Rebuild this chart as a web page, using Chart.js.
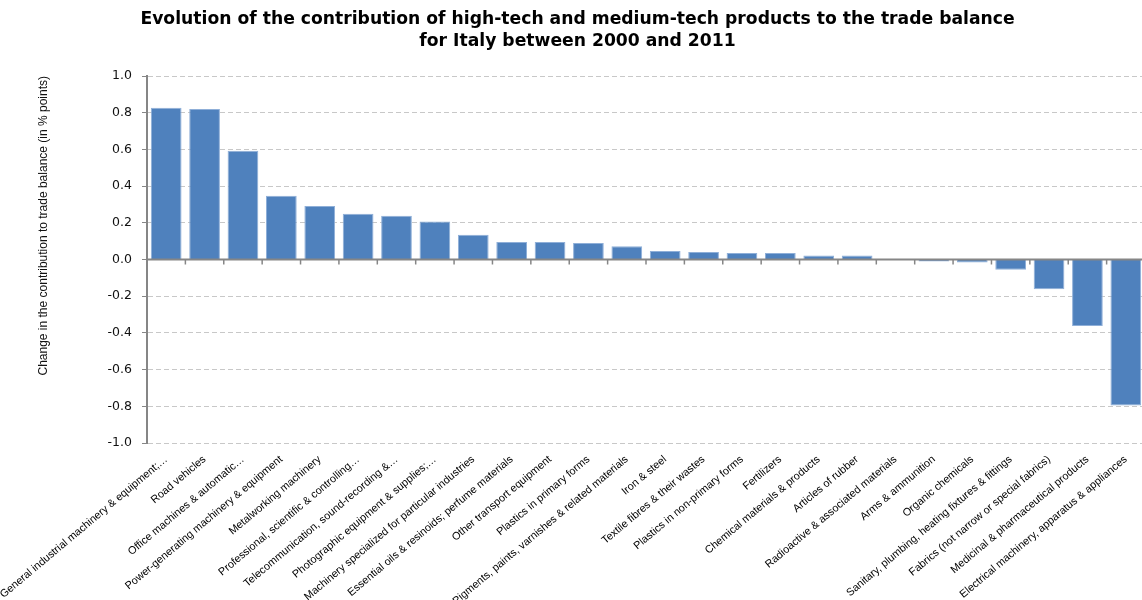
<!DOCTYPE html>
<html><head><meta charset="utf-8">
<script src="https://cdn.jsdelivr.net/npm/chart.js@4.4.1/dist/chart.umd.min.js"></script>
<style>
html,body{margin:0;padding:0;overflow:hidden;background:#fff;width:1142px;height:600px}
#wrap{position:absolute;left:0;top:0;width:1150px;height:600px}
</style>
</head><body><div id="wrap"><canvas id="c" width="1150" height="600"></canvas></div>
<script>
const titleLines = [
  'Evolution of the contribution of high-tech and medium-tech products to the trade balance',
  'for Italy between 2000 and 2011'
];
const yAxisTitle = 'Change in the contribution to trade balance (in % points)';
const categories = [
  'General industrial machinery & equipment;\u2026',
  'Road vehicles',
  'Office machines & automatic\u2026',
  'Power-generating machinery & equipment',
  'Metalworking machinery',
  'Professional, scientific & controlling\u2026',
  'Telecommunication, sound-recording &\u2026',
  'Photographic equipment & supplies;\u2026',
  'Machinery specialized for particular industries',
  'Essential oils & resinoids; perfume materials',
  'Other transport equipment',
  'Plastics in primary forms',
  'Pigments, paints, varnishes & related materials',
  'Iron & steel',
  'Textile fibres & their wastes',
  'Plastics in non-primary forms',
  'Fertilizers',
  'Chemical materials & products',
  'Articles of rubber',
  'Radioactive & associated materials',
  'Arms & ammunition',
  'Organic chemicals',
  'Sanitary, plumbing, heating fixtures & fittings',
  'Fabrics (not narrow or special fabrics)',
  'Medicinal & pharmaceutical products',
  'Electrical machinery, apparatus & appliances'
];
const values = [
  0.827, 0.820, 0.593, 0.348, 0.292, 0.249, 0.238, 0.207, 0.135, 0.096,
  0.096, 0.090, 0.072, 0.047, 0.041, 0.036, 0.036, 0.022, 0.022, 0.000,
  -0.011, -0.017, -0.056, -0.162, -0.362, -0.795
];
const yMin = -1.0;
const yMax = 1.0;
const yStep = 0.2;

const AXIS_GREY = '#868686';

const zeroLinePlugin = {
  id: 'zeroLine',
  afterDatasetsDraw(chart) {
    const {ctx, chartArea, scales: {x, y}} = chart;
    const y0 = y.getPixelForValue(0);
    ctx.save();
    ctx.strokeStyle = AXIS_GREY;
    ctx.lineWidth = 2;
    ctx.beginPath();
    ctx.moveTo(chartArea.left, y0);
    ctx.lineTo(chartArea.right, y0);
    ctx.stroke();
    ctx.lineWidth = 1.5;
    const n = categories.length;
    for (let i = 0; i < n - 1; i++) {
      const xb = (x.getPixelForValue(i) + x.getPixelForValue(i + 1)) / 2;
      ctx.beginPath();
      ctx.moveTo(xb, y0);
      ctx.lineTo(xb, y0 + 5);
      ctx.stroke();
    }
    ctx.restore();
  }
};

new Chart(document.getElementById('c'), {
  type: 'bar',
  data: {
    labels: categories,
    datasets: [{
      data: values,
      backgroundColor: '#4F81BD',
      borderColor: '#8FAFD8',
      borderWidth: 1,
      barPercentage: 0.8,
      categoryPercentage: 1.0
    }]
  },
  options: {
    responsive: false,
    animation: false,
    devicePixelRatio: 1,
    layout: {padding: {left: 10, right: 5, top: 0, bottom: 0}},
    plugins: {
      legend: {display: false},
      tooltip: {enabled: false},
      title: {
        display: true,
        text: titleLines,
        color: '#000',
        font: {family: 'DejaVu Sans', weight: 'bold', size: 17.2, lineHeight: 1.25},
        padding: {top: 9, bottom: 24}
      }
    },
    scales: {
      x: {
        offset: true,
        grid: {display: false},
        border: {display: false},
        ticks: {
          autoSkip: false,
          maxRotation: 40,
          minRotation: 40,
          padding: 2,
          color: '#000',
          font: {family: 'Liberation Sans', size: 10.8}
        },
        afterFit(s) { s.height = 157; s.paddingLeft = 0; s.paddingRight = 0; }
      },
      y: {
        min: yMin,
        max: yMax,
        ticks: {
          stepSize: yStep,
          padding: 10,
          color: '#111',
          font: {family: 'DejaVu Sans', size: 12.5},
          callback: v => Number(v).toFixed(1)
        },
        grid: {
          color: c => (c.tick && Math.abs(c.tick.value) < 1e-9) ? 'rgba(0,0,0,0)' : '#c8c8c8',
          tickColor: AXIS_GREY,
          tickLength: 5,
          lineWidth: 1
        },
        border: {display: true, color: AXIS_GREY, width: 2, dash: [5, 3]},
        title: {
          display: true,
          align: 'end',
          text: yAxisTitle,
          color: '#111',
          font: {family: 'Liberation Sans', size: 12},
          padding: {top: 26, bottom: 0}
        },
        afterFit(s) { s.width = 137; }
      }
    }
  },
  plugins: [zeroLinePlugin]
});
</script>
</body></html>
